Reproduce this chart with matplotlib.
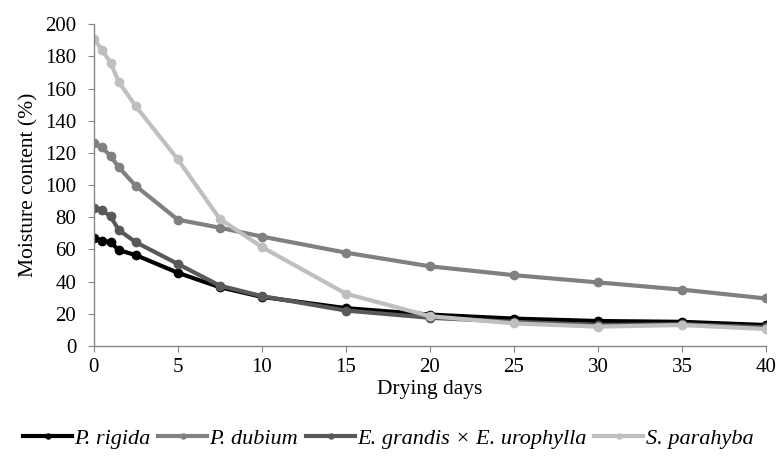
import matplotlib
matplotlib.use("Agg")
import matplotlib.pyplot as plt

days = [0, 0.5, 1, 1.5, 2.5, 5, 7.5, 10, 15, 20, 25, 30, 35, 40]
p_rigida = [67, 65.5, 64.5, 59.5, 56.5, 45.5, 36.5, 30.5, 23.5, 19.5, 17, 15.5, 15, 13]
p_dubium = [126, 123.5, 118, 111, 99.5, 78.5, 73.5, 68, 58, 49.5, 44, 39.5, 35, 29.5]
e_grandis = [86, 84.5, 80.5, 72, 64.5, 51, 37.5, 31, 22, 17.5, 15, 13, 13.5, 11.5]
s_parahyba = [191, 184, 176, 164, 149, 116, 79, 61.5, 32.5, 18.5, 14, 12, 13, 10.5]

series = [
    ("P. rigida", p_rigida, "#000000"),
    ("P. dubium", p_dubium, "#808080"),
    ("E. grandis × E. urophylla", e_grandis, "#595959"),
    ("S. parahyba", s_parahyba, "#bfbfbf"),
]

plt.rcParams['font.family'] = ['Liberation Serif', 'DejaVu Serif']

fig = plt.figure(figsize=(7.81, 4.57), dpi=100)
ax = fig.add_axes([0.120, 0.243, 0.861, 0.704])

for name, vals, col in series:
    ax.plot(days, vals, color=col, lw=3, marker='o', ms=6, label=name)

ax.set_xlim(0, 40)
ax.set_ylim(0, 200)
ax.set_xticks(range(0, 41, 5))
ax.set_yticks(range(0, 201, 20))
for s in ['top', 'right']:
    ax.spines[s].set_visible(False)
for s in ['left', 'bottom']:
    ax.spines[s].set_color('#868686')
    ax.spines[s].set_linewidth(1)
ax.tick_params(axis='both', colors='#868686', labelcolor='black', labelsize=15,
               length=4.5, direction='out')
ax.tick_params(axis='y', pad=8)
ax.tick_params(axis='x', pad=4)
ax.set_xlabel("Drying days", fontsize=15.5, labelpad=2)
ax.set_ylabel("Moisture content (%)", fontsize=15.5, labelpad=5)

leg = ax.legend(loc='center', bbox_to_anchor=(0.438, -0.288), ncol=4, frameon=False,
                prop={'style': 'italic', 'size': 16}, handlelength=2.2, handletextpad=0.1,
                columnspacing=0.35, borderaxespad=0, markerscale=0.6)

fig.savefig("out.png", dpi=100)
